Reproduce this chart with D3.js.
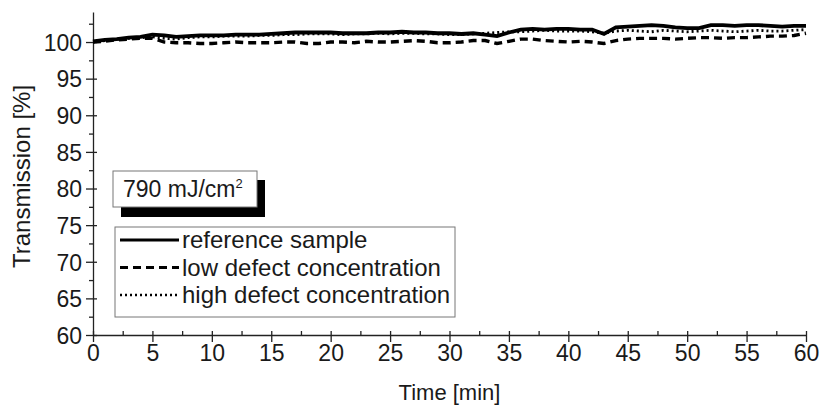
<!DOCTYPE html>
<html>
<head>
<meta charset="utf-8">
<script src="https://cdn.jsdelivr.net/npm/d3@7"></script>
<style>
  body { margin: 0; background: #fff; }
  text { font-family: "Liberation Sans", Arial, sans-serif; fill: #1a1a1a; }
</style>
</head>
<body>
<div id="chart"></div>
<script>
// chart size
const width = 820;
const height = 412;
const margin = {top: 12, right: 14, bottom: 77, left: 93};

// data: time in minutes, transmission in %
const time = d3.range(0, 61);
const reference = [100.1,100.3,100.4,100.6,100.7,101.0,100.9,100.7,100.8,100.9,100.9,100.9,101.0,101.0,101.0,101.1,101.2,101.3,101.3,101.3,101.3,101.2,101.2,101.2,101.3,101.3,101.4,101.3,101.3,101.2,101.2,101.1,101.2,101.0,100.8,101.3,101.7,101.8,101.7,101.8,101.8,101.7,101.7,101.1,102.0,102.1,102.2,102.3,102.2,102.0,101.9,101.9,102.3,102.3,102.2,102.3,102.3,102.2,102.1,102.2,102.2];
const lowDefect = [100.0,100.1,100.3,100.4,100.5,100.5,100.0,99.9,99.9,99.8,99.8,99.9,100.0,99.9,99.9,99.9,100.0,100.0,99.8,99.8,100.0,100.0,99.9,100.1,100.0,100.0,100.1,100.2,100.1,99.9,99.9,100.0,100.2,100.2,99.8,100.1,100.4,100.4,100.2,100.1,100.0,100.1,100.0,99.8,100.2,100.4,100.5,100.5,100.5,100.4,100.5,100.6,100.6,100.5,100.6,100.6,100.7,100.8,100.8,100.9,101.2];
const highDefect = [100.0,100.2,100.4,100.5,100.6,100.7,100.5,100.4,100.6,100.7,100.7,100.8,100.8,100.8,100.9,100.9,101.0,101.0,101.1,101.1,101.1,101.0,101.1,101.1,101.2,101.1,101.2,101.2,101.1,101.1,101.0,101.0,101.1,101.2,101.3,101.4,101.4,101.5,101.6,101.5,101.5,101.5,101.4,101.2,101.5,101.6,101.5,101.4,101.6,101.5,101.4,101.5,101.6,101.5,101.4,101.5,101.6,101.5,101.5,101.6,101.7];

const seriesNames = ["reference sample", "low defect concentration", "high defect concentration"];
const xTicks = d3.range(0, 61, 5);
const yTicks = d3.range(60, 101, 5);
const annotation = "790 mJ/cm";

const svg = d3.select("#chart")
    .append("svg")
    .attr("width", width)
    .attr("height", height);

const x = d3.scaleLinear().domain([0, 60]).range([margin.left, width - margin.right]);
const y = d3.scaleLinear().domain([60, 104.1]).range([height - margin.bottom, margin.top]);

// minor ticks
svg.append("g")
    .attr("transform", `translate(0,${height - margin.bottom})`)
    .call(d3.axisBottom(x).tickValues(d3.range(2.5, 60, 5)).tickSize(-4).tickFormat(""))
    .call(g => g.select(".domain").remove());
svg.append("g")
    .attr("transform", `translate(${margin.left},0)`)
    .call(d3.axisLeft(y).tickValues(d3.range(62.5, 104, 5)).tickSize(4).tickFormat(""))
    .call(g => g.select(".domain").remove());

// inner part of the major ticks
svg.append("g")
    .attr("transform", `translate(0,${height - margin.bottom})`)
    .call(d3.axisBottom(x).tickValues(xTicks).tickSize(-4).tickFormat(""))
    .call(g => g.select(".domain").remove());
svg.append("g")
    .attr("transform", `translate(${margin.left},0)`)
    .call(d3.axisLeft(y).tickValues(yTicks).tickSize(-4).tickFormat(""))
    .call(g => g.select(".domain").remove());

// main axes
const xAxis = svg.append("g")
    .attr("transform", `translate(0,${height - margin.bottom})`)
    .call(d3.axisBottom(x).tickValues(xTicks).tickSize(7).tickSizeOuter(0).tickPadding(3));
const yAxis = svg.append("g")
    .attr("transform", `translate(${margin.left},0)`)
    .call(d3.axisLeft(y).tickValues(yTicks).tickSize(7).tickSizeOuter(0).tickPadding(4));

svg.selectAll(".tick line, .domain").attr("stroke", "#222").attr("stroke-width", 1.3);
xAxis.selectAll("text").style("font-size", "23px").attr("font-family", null);
yAxis.selectAll("text").style("font-size", "23px").attr("font-family", null).attr("dy", "0.36em");

// axis titles
svg.append("text")
    .attr("x", (margin.left + width - margin.right) / 2)
    .attr("y", 400)
    .attr("text-anchor", "middle")
    .style("font-size", "22px")
    .text("Time [min]");
svg.append("text")
    .attr("transform", `translate(30,${(margin.top + height - margin.bottom) / 2 + 3}) rotate(-90)`)
    .attr("text-anchor", "middle")
    .style("font-size", "24px")
    .text("Transmission [%]");

// lines
const line = d3.line().x((d, i) => x(time[i])).y(d => y(d)).curve(d3.curveLinear);

svg.append("path").datum(highDefect)
    .attr("fill", "none").attr("stroke", "#000").attr("stroke-width", 2.8)
    .attr("stroke-dasharray", "2,3").attr("d", line);
svg.append("path").datum(lowDefect)
    .attr("fill", "none").attr("stroke", "#000").attr("stroke-width", 3.4)
    .attr("stroke-dasharray", "8,5").attr("d", line);
svg.append("path").datum(reference)
    .attr("fill", "none").attr("stroke", "#000").attr("stroke-width", 3.8)
    .attr("d", line);

// annotation box with shadow
svg.append("rect").attr("x", 121).attr("y", 180).attr("width", 144).attr("height", 37).attr("fill", "#000");
svg.append("rect").attr("x", 113).attr("y", 171).attr("width", 144).attr("height", 36)
    .attr("fill", "#fff").attr("stroke", "#777").attr("stroke-width", 1);
const ann = svg.append("text").attr("x", 123).attr("y", 197).style("font-size", "23px").text(annotation);
ann.append("tspan").attr("dy", -9).style("font-size", "13px").text("2");

// legend
svg.append("rect").attr("x", 115).attr("y", 227).attr("width", 340).attr("height", 90)
    .attr("fill", "#fff").attr("stroke", "#777").attr("stroke-width", 1);
const dashes = [null, "8,5", "2,3"];
const widths = [3.2, 3, 2.6];
seriesNames.forEach((name, i) => {
    const ly = 240 + i * 27.5;
    svg.append("line").attr("x1", 120).attr("x2", 179).attr("y1", ly).attr("y2", ly)
        .attr("stroke", "#000").attr("stroke-width", widths[i])
        .attr("stroke-dasharray", dashes[i]);
    svg.append("text").attr("x", 182).attr("y", ly + 8).style("font-size", "24px").text(name);
});
</script>
</body>
</html>
